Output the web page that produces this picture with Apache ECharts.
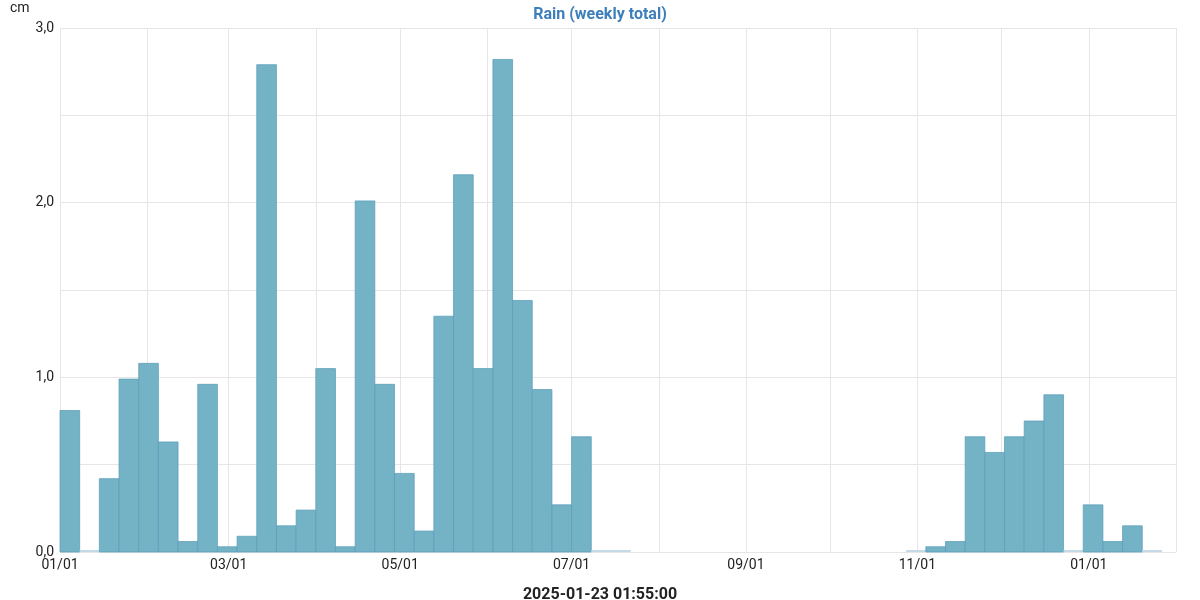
<!DOCTYPE html>
<html>
<head>
<meta charset="utf-8">
<script src="https://cdn.jsdelivr.net/npm/echarts@6/dist/echarts.min.js"></script>
<style>html,body{margin:0;padding:0;background:#fff}#c{width:1200px;height:600px}</style>
</head>
<body>
<div id="c"></div>
<script>
// Week start dates (weekly totals)
const weekStarts = [
  '2024-01-01','2024-01-08','2024-01-15','2024-01-22','2024-01-29','2024-02-05','2024-02-12',
  '2024-02-19','2024-02-26','2024-03-04','2024-03-11','2024-03-18','2024-03-25','2024-04-01',
  '2024-04-08','2024-04-15','2024-04-22','2024-04-29','2024-05-06','2024-05-13','2024-05-20',
  '2024-05-27','2024-06-03','2024-06-10','2024-06-17','2024-06-24','2024-07-01','2024-07-08',
  '2024-07-15',
  '2024-10-28','2024-11-04','2024-11-11','2024-11-18','2024-11-25','2024-12-02','2024-12-09',
  '2024-12-16','2024-12-23','2024-12-30','2025-01-06','2025-01-13','2025-01-20'
];
// Rain in cm per week
const rainValues = [
  0.81, 0, 0.42, 0.99, 1.08, 0.63, 0.06,
  0.96, 0.03, 0.09, 2.79, 0.15, 0.24, 1.05,
  0.03, 2.01, 0.96, 0.45, 0.12, 1.35, 2.16,
  1.05, 2.82, 1.44, 0.93, 0.27, 0.66, 0,
  0,
  0, 0.03, 0.06, 0.66, 0.57, 0.66, 0.75,
  0.90, 0, 0.27, 0.06, 0.15, 0
];
const yTickLabels = ['0,0', '1,0', '2,0', '3,0'];
const monthLabelFormat = ['01/01','02/01','03/01','04/01','05/01','06/01','07/01','08/01','09/01','10/01','11/01','12/01'];
const shownMonths = [0, 2, 4, 6, 8, 10];

const DAY = 86400000;
function localTime(s) {
  const p = s.split('-').map(Number);
  return new Date(p[0], p[1] - 1, p[2]).getTime();
}
const data = weekStarts.map((s, i) => [localTime(s), localTime(s) + 7 * DAY, rainValues[i]]);

const chart = echarts.init(document.getElementById('c'), null, { renderer: 'canvas' });
chart.setOption({
  animation: false,
  textStyle: { fontFamily: 'Roboto' },
  title: [
    { text: 'Rain (weekly total)', left: 'center', top: 2,
      textStyle: { fontFamily: 'Roboto', fontSize: 16, fontWeight: 'bold', color: '#3d7fba' } },
    { text: '2025-01-23 01:55:00', left: 'center', top: 582,
      textStyle: { fontFamily: 'Roboto', fontSize: 16, fontWeight: 'bold', color: '#222' } },
    { text: 'cm', left: 10, top: 1, padding: 0,
      textStyle: { fontFamily: 'Roboto', fontSize: 14, fontWeight: 'normal', color: '#222' } }
  ],
  grid: { left: 60, right: 24, top: 28, bottom: 48, containLabel: false },
  xAxis: {
    type: 'time',
    min: new Date(2024, 0, 1).getTime(),
    max: new Date(2025, 1, 1).getTime(),
    splitNumber: 14,
    axisLine: { show: false },
    axisTick: { show: false },
    splitLine: { show: true, lineStyle: { color: '#e6e6e6', width: 1 } },
    axisLabel: {
      fontFamily: 'Roboto', fontSize: 14, color: '#222', margin: 6,
      showMinLabel: true, showMaxLabel: true, hideOverlap: false,
      formatter: function (v) {
        const d = new Date(v);
        if (d.getDate() !== 1) return '';
        const m = d.getMonth();
        return shownMonths.indexOf(m) >= 0 ? monthLabelFormat[m] : '';
      }
    }
  },
  yAxis: {
    type: 'value', min: 0, max: 3, interval: 0.5,
    axisLine: { show: false },
    axisTick: { show: false },
    splitLine: { show: true, lineStyle: { color: '#e6e6e6', width: 1 } },
    axisLabel: {
      fontFamily: 'Roboto', fontSize: 14, color: '#222', margin: 6,
      formatter: function (v) {
        return Math.abs(v - Math.round(v)) < 1e-9 ? yTickLabels[Math.round(v)] : '';
      }
    }
  },
  series: [{
    type: 'custom',
    encode: { x: [0, 1], y: 2 },
    data: data,
    renderItem: function (params, api) {
      const start = api.coord([api.value(0), api.value(2)]);
      const end = api.coord([api.value(1), 0]);
      const v = api.value(2);
      if (v === 0) {
        return {
          type: 'rect',
          shape: { x: start[0], y: end[1] - 2, width: end[0] - start[0], height: 2 },
          style: { fill: '#c3dae6' }
        };
      }
      return {
        type: 'rect',
        shape: { x: start[0], y: start[1], width: end[0] - start[0], height: end[1] - start[1] },
        style: { fill: '#74b3c6', stroke: 'rgba(92,158,185,0.75)', lineWidth: 1 }
      };
    }
  }]
});
</script>
</body>
</html>
